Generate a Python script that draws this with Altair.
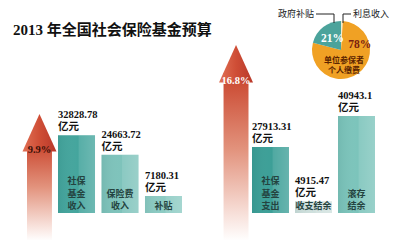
import altair as alt
import pandas as pd

# ---------------- data ----------------
title_text = "2013 年全国社会保险基金预算"
unit = "亿元"

income_items = ["社保基金收入", "保险费收入", "补贴"]
income_values = [32828.78, 24663.72, 7180.31]
income_names = ["社保\n基金\n收入", "保险费\n收入", "补贴"]

expense_items = ["社保基金支出", "收支结余", "滚存结余"]
expense_values = [27913.31, 4915.47, 40943.1]
expense_names = ["社保\n基金\n支出", "收支结余", "滚存\n结余"]

growth_items = ["收入增长", "支出增长"]
growth_rates = [9.9, 16.8]

pie_parts = ["利息收入", "单位参保者个人缴费", "政府补贴"]
pie_shares = [1, 78, 21]
pie_names = ["利息收入", "单位参保者\n个人缴费", "政府补贴"]

# ---------------- styles ----------------
FONT_NUM = "Liberation Serif, Noto Sans CJK SC"
FONT_CJK = "Noto Sans CJK SC"
bar_colors = ["#44a59d", "#7ec3bb", "#8ccbc3", "#3c9f97", "#cfe0dd", "#7cc4bb"]
pie_colors = ["#f6ecc8", "#f0a124", "#4ba39b"]

items_all = income_items + expense_items
bar_df = pd.DataFrame({
    "item": items_all,
    "value": income_values + expense_values,
})
bar_df["num"] = [f"{v}" for v in bar_df["value"]]
bar_df["unit"] = unit

# one row per line of each bar's name, counted from the bottom line
rows = []
for it, nm in zip(items_all, income_names + expense_names):
    lines = nm.split("\n")
    for k, ln in enumerate(reversed(lines)):
        rows.append({"item": it, "line": ln, "k": k})
name_df = pd.DataFrame(rows)

arrow_df = pd.DataFrame({"item": growth_items, "rate": growth_rates})
arrow_df["label"] = [f"{r}%" for r in growth_rates]

pie_df = pd.DataFrame({"part": pie_parts, "share": pie_shares, "desc": pie_names})
pie_df["rank"] = list(range(len(pie_parts)))
pie_df["label"] = [f"{s}%" for s in pie_shares]

VSCALE = alt.Scale(domain=[0, 81500], range=[213, 0])
GSCALE = alt.Scale(domain=[0, 21.3], range=[213, 0])
CSCALE = alt.Scale(domain=items_all, range=bar_colors)

shine = {
    "gradient": "linear", "x1": 0, "x2": 1, "y1": 0, "y2": 0,
    "stops": [
        {"offset": 0, "color": "rgba(0,60,55,0.08)"},
        {"offset": 0.55, "color": "rgba(255,255,255,0.0)"},
        {"offset": 0.56, "color": "rgba(255,255,255,0.10)"},
        {"offset": 1, "color": "rgba(255,255,255,0.22)"},
    ],
}


def bar_side(items, rng, pad):
    xs = alt.Scale(domain=items, range=rng, paddingInner=pad, paddingOuter=0)
    pred = alt.FieldOneOfPredicate(field="item", oneOf=items)
    base = alt.Chart(bar_df).transform_filter(pred)
    x = alt.X("item:N", scale=xs, axis=None)
    x0 = alt.X("item:N", scale=xs, axis=None, bandPosition=0)
    y = alt.Y("value:Q", scale=VSCALE, axis=None)
    bars = base.mark_bar().encode(
        x=x, y=y, color=alt.Color("item:N", scale=CSCALE, legend=None))
    gloss = base.mark_bar(color=shine).encode(x=x, y=y)
    txt = dict(align="left", baseline="bottom", font=FONT_NUM, fontSize=10.5,
               fontWeight="bold", color="#111111")
    nums = base.mark_text(dy=-15, **txt).encode(x=x0, y=y, text="num:N")
    units = base.mark_text(dy=-3, **txt).encode(x=x0, y=y, text="unit:N")
    layers = [bars, gloss, nums, units]
    for k in range(3):
        layers.append(
            alt.Chart(name_df).transform_filter(pred).transform_filter(alt.datum.k == k)
            .mark_text(align="center", baseline="bottom", font=FONT_CJK, fontSize=9,
                       fontWeight="bold", color="#24433f", dy=-2 - 12.5 * k)
            .encode(x=x, y=alt.datum(0), text="line:N")
        )
    return alt.layer(*layers)


left = bar_side(income_items, [58, 182], 0.149)
right = bar_side(expense_items, [252, 375], 0.14)

# ---------------- arrows ----------------
ax = alt.X("item:N", scale=alt.Scale(domain=growth_items, range=[27, 248.5],
                                     paddingInner=0.873, paddingOuter=0), axis=None)
ay = alt.Y("rate:Q", scale=GSCALE, axis=None)
body_grad = {
    "gradient": "linear", "x1": 0, "x2": 0, "y1": 0, "y2": 1,
    "stops": [
        {"offset": 0, "color": "#c9432b"},
        {"offset": 0.45, "color": "#e2927c"},
        {"offset": 0.85, "color": "#f8e2dc"},
        {"offset": 1, "color": "#ffffff"},
    ],
}
head_grad = {
    "gradient": "linear", "x1": 0, "x2": 1, "y1": 0, "y2": 0,
    "stops": [
        {"offset": 0, "color": "#e07055"},
        {"offset": 0.5, "color": "#cf4e36"},
        {"offset": 1, "color": "#b8382a"},
    ],
}
arrow_base = alt.Chart(arrow_df)
body = arrow_base.mark_bar(color=body_grad, yOffset=28).encode(x=ax, y=ay)
head = arrow_base.mark_point(
    shape="M0,0L1,2.2L-1,2.2Z", size=1156, filled=True, opacity=1,
    strokeWidth=0, fill=head_grad,
).encode(x=ax, y=ay)
pct = arrow_base.mark_text(
    baseline="middle", font=FONT_NUM, fontSize=10.5, fontWeight="bold", dy=36,
).encode(
    x=ax, y=ay, text="label:N",
    color=alt.condition(alt.datum.rate < 10, alt.value("#3b1108"), alt.value("white")),
)
arrows = alt.layer(body, head, pct)

# ---------------- pie ----------------
TH = alt.Scale(domain=[0, 100])
PX, PY = 341, 50
arc = alt.Chart(pie_df).mark_arc(outerRadius=29).encode(
    theta=alt.Theta("share:Q", scale=TH, stack=True),
    order=alt.Order("rank:Q"),
    color=alt.Color("part:N", scale=alt.Scale(domain=pie_parts, range=pie_colors), legend=None),
    x=alt.value(PX), y=alt.value(PY),
)
pie_base = alt.Chart(pie_df).transform_window(
    cum="sum(share)", sort=[alt.SortField("rank")], frame=[None, 0]
).transform_calculate(mid="datum.cum - datum.share / 2")
th_mid = alt.Theta("mid:Q", scale=TH, stack=None)
t21 = pie_base.transform_filter(alt.datum.part == pie_parts[2]).mark_text(
    radius=14, font=FONT_NUM, fontSize=11.5, fontWeight="bold", color="white",
).encode(theta=th_mid, text="label:N", x=alt.value(PX), y=alt.value(PY))
t78 = pie_base.transform_filter(alt.datum.part == pie_parts[1]).mark_text(
    radius=8, dx=14, dy=-11, font=FONT_NUM, fontSize=11.5, fontWeight="bold", color="#7a1e10",
).encode(theta=th_mid, text="label:N", x=alt.value(PX), y=alt.value(PY))
tdesc = pie_base.transform_filter(alt.datum.part == pie_parts[1]).mark_text(
    radius=12, dx=-4, dy=1, lineBreak="\n", lineHeight=10.5,
    font=FONT_CJK, fontSize=8, fontWeight="bold", color="#5b2300",
).encode(theta=th_mid, text="desc:N", x=alt.value(PX), y=alt.value(PY))
pie = alt.layer(arc, t21, t78, tdesc)

# leaders
def rule(x1, x2, y1, y2):
    return alt.Chart().mark_rule(color="#222222", strokeWidth=1).encode(
        x=alt.value(x1), x2=alt.value(x2), y=alt.value(y1), y2=alt.value(y2))

lead_l = alt.Chart().mark_text(
    text=pie_names[2], align="right", baseline="middle", font=FONT_CJK,
    fontSize=9, color="#222222").encode(x=alt.value(314), y=alt.value(14))
lead_r = alt.Chart().mark_text(
    text=pie_names[0], align="left", baseline="middle", font=FONT_CJK,
    fontSize=9, color="#222222").encode(x=alt.value(353), y=alt.value(14))

title = alt.Chart().mark_text(
    text=title_text, align="left", baseline="middle", font=FONT_NUM,
    fontSize=15, fontWeight="bold", color="#111111",
).encode(x=alt.value(13), y=alt.value(30))

chart = alt.layer(
    arrows, left, right, pie,
    rule(316, 334, 14, 14), rule(334, 334, 14, 23),
    rule(343, 351, 14, 14), rule(343, 343, 14, 23),
    lead_l, lead_r, title,
).resolve_scale(
    x="independent", y="independent", color="independent", theta="independent"
).properties(
    width=400, height=240, padding=0,
    autosize=alt.AutoSizeParams(type="none"),
    background="white",
).configure_view(stroke=None)

chart.save("out.html", embed_options={"renderer": "svg", "actions": False})
